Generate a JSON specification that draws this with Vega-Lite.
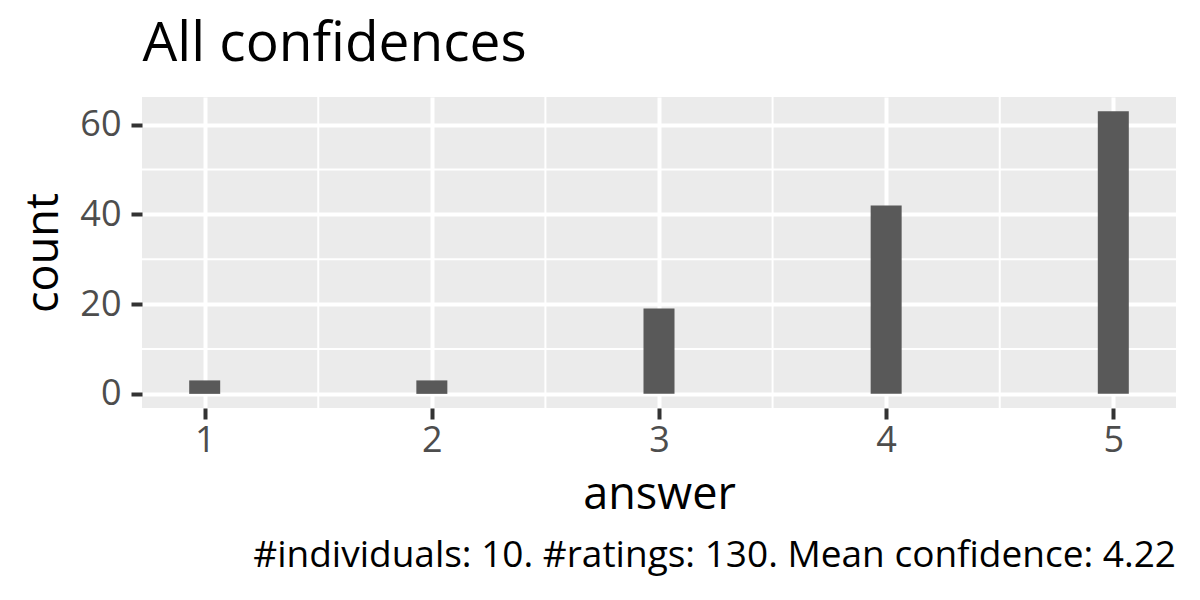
{
  "$schema": "https://vega.github.io/schema/vega-lite/v6.json",
  "autosize": "none",
  "width": 1034,
  "height": 311,
  "padding": {"left": 142, "top": 97, "right": 24, "bottom": 192},
  "background": "white",
  "config": {
    "font": "Open Sans",
    "view": {"stroke": null, "fill": "#EBEBEB"}
  },
  "title": {
    "text": "#individuals: 10. #ratings: 130. Mean confidence: 4.22",
    "orient": "bottom",
    "anchor": "end",
    "frame": "group",
    "fontSize": 37,
    "fontWeight": "normal",
    "color": "black",
    "offset": 21
  },
  "datasets": {
    "counts": [
      {"answer": 1, "count": 3},
      {"answer": 2, "count": 3},
      {"answer": 3, "count": 19},
      {"answer": 4, "count": 42},
      {"answer": 5, "count": 63}
    ],
    "minorX": [{"v": 1.5}, {"v": 2.5}, {"v": 3.5}, {"v": 4.5}],
    "minorY": [{"v": 10}, {"v": 30}, {"v": 50}]
  },
  "layer": [
    {
      "data": {"name": "minorX"},
      "mark": {"type": "rule", "color": "white", "strokeWidth": 2},
      "encoding": {
        "x": {
          "field": "v",
          "type": "quantitative",
          "scale": {"domain": [0.724, 5.276], "nice": false, "zero": false, "padding": 0},
          "axis": {
            "orient": "top",
            "title": "All confidences",
            "titleAnchor": "start",
            "titleFontSize": 55,
            "titleFontWeight": "normal",
            "titleColor": "black",
            "titleBaseline": "alphabetic",
            "titlePadding": 37,
            "labels": false,
            "ticks": false,
            "domain": false,
            "grid": false
          }
        }
      }
    },
    {
      "data": {"name": "minorY"},
      "mark": {"type": "rule", "color": "white", "strokeWidth": 2},
      "encoding": {
        "y": {
          "field": "v",
          "type": "quantitative",
          "scale": {"domain": [-3.15, 66.15], "nice": false, "zero": false, "padding": 0},
          "axis": {
            "values": [0, 20, 40, 60],
            "title": "count",
            "domain": false,
            "grid": true,
            "gridColor": "white",
            "gridWidth": 4,
            "ticks": true,
            "tickColor": "#333333",
            "tickWidth": 4,
            "tickSize": 11,
            "labelFontSize": 36,
            "labelColor": "#4D4D4D",
            "labelPadding": 10,
            "titleFontSize": 45,
            "titleFontWeight": "normal",
            "titleColor": "black",
            "titlePadding": 13
          }
        }
      }
    },
    {
      "data": {"name": "counts"},
      "mark": {"type": "bar", "width": 31, "color": "#595959"},
      "encoding": {
        "x": {
          "field": "answer",
          "type": "quantitative",
          "scale": {"domain": [0.724, 5.276], "nice": false, "zero": false, "padding": 0},
          "axis": {
            "orient": "bottom",
            "values": [1, 2, 3, 4, 5],
            "title": "answer",
            "domain": false,
            "grid": true,
            "gridColor": "white",
            "gridWidth": 4,
            "ticks": true,
            "tickColor": "#333333",
            "tickWidth": 4,
            "tickSize": 11,
            "labelFontSize": 36,
            "labelColor": "#4D4D4D",
            "labelPadding": 4,
            "titleFontSize": 45,
            "titleFontWeight": "normal",
            "titleColor": "black",
            "titlePadding": 14
          }
        },
        "y": {
          "field": "count",
          "type": "quantitative",
          "scale": {"domain": [-3.15, 66.15], "nice": false, "zero": false, "padding": 0},
          "axis": {
            "values": [0, 20, 40, 60],
            "title": "count",
            "domain": false,
            "grid": true,
            "gridColor": "white",
            "gridWidth": 4,
            "ticks": true,
            "tickColor": "#333333",
            "tickWidth": 4,
            "tickSize": 11,
            "labelFontSize": 36,
            "labelColor": "#4D4D4D",
            "labelPadding": 10,
            "titleFontSize": 45,
            "titleFontWeight": "normal",
            "titleColor": "black",
            "titlePadding": 13
          }
        },
        "y2": {"datum": 0}
      }
    }
  ],
  "resolve": {"axis": {"x": "independent"}}
}
